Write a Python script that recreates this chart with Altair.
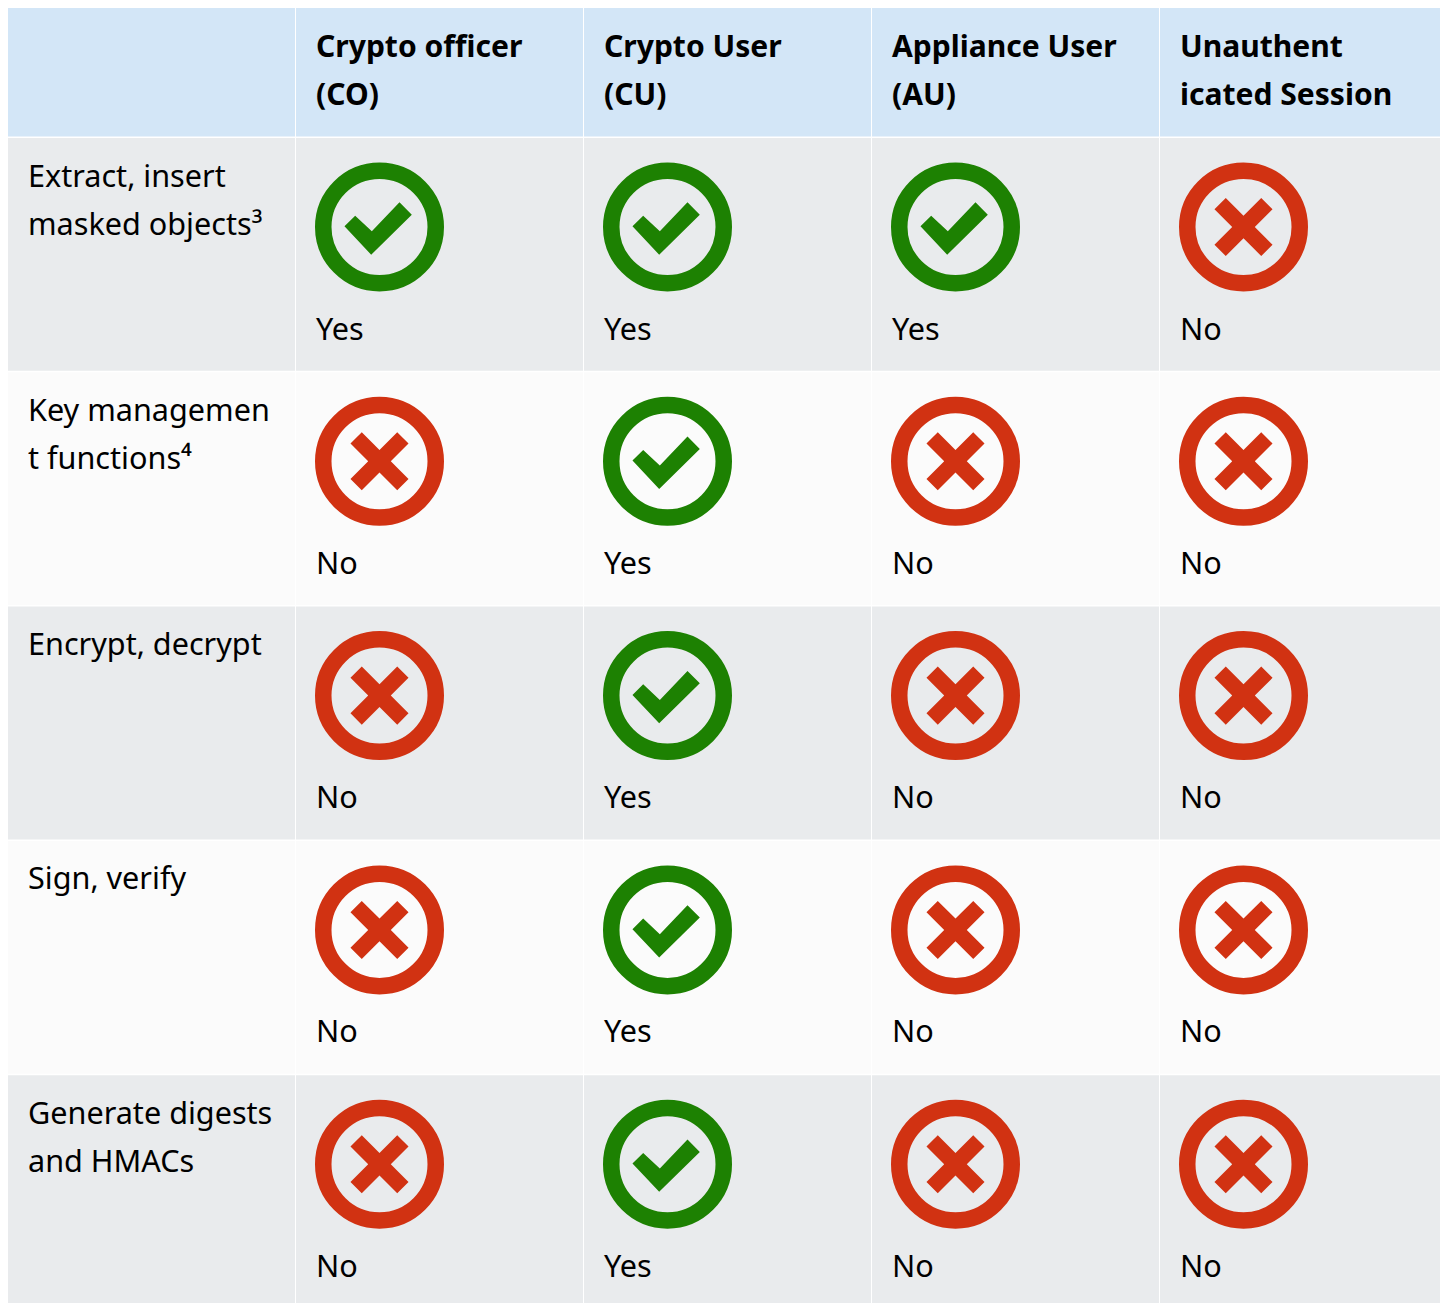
import altair as alt
import pandas as pd

columns = ["Role", "Crypto officer", "Crypto User", "Appliance User", "Unauthenticated"]
header_labels = ["", "Crypto officer\n(CO)", "Crypto User\n(CU)", "Appliance User\n(AU)", "Unauthent\nicated Session"]
row_labels = [
    "Extract, insert\nmasked objects³",
    "Key managemen\nt functions⁴",
    "Encrypt, decrypt",
    "Sign, verify",
    "Generate digests\nand HMACs",
]
stripe = ["odd", "even", "odd", "even", "odd"]
co = ["Yes", "No", "No", "No", "No"]
cu = ["Yes", "Yes", "Yes", "Yes", "Yes"]
au = ["Yes", "No", "No", "No", "No"]
un = ["No", "No", "No", "No", "No"]

FONT = "Noto Sans"
FS = 30.6
FSB = 30.05
CHECK = "M-.543,-.011L-.377,-.175L-.119,.067L.31,-.383L.501,-.191L-.129,.429Z"
CROSS = ("M-.275,-.45L0,-.175L.275,-.45L.45,-.275L.175,0L.45,.275L.275,.45L0,.175"
         "L-.275,.45L-.45,.275L-.175,0L-.45,-.275Z")

header = pd.DataFrame({"col": columns, "label": header_labels})
rows = []
for i, label in enumerate(row_labels):
    rows.append({"row": i, "col": columns[0], "stripe": stripe[i], "label": label})
body_cells = pd.DataFrame(rows)
status_rows = []
for c, vals in zip(columns[1:], [co, cu, au, un]):
    for i, v in enumerate(vals):
        status_rows.append({"row": i, "col": c, "status": v, "stripe": stripe[i]})
status = pd.DataFrame(status_rows)
cells = pd.concat([body_cells[["row", "col", "stripe"]], status[["row", "col", "stripe"]]])

# The page's content box is 1432 wide; the table's columns keep their true 288 step.
xscale = alt.Scale(type="band", domain=columns, paddingInner=1 / 288, paddingOuter=0, range=[0, 1439])
yscale = alt.Scale(type="band", domain=list(range(5)), paddingInner=1.5 / 234, paddingOuter=0)
X = alt.X("col:N", scale=xscale, axis=None, title=None)
X0 = alt.X("col:N", scale=xscale, axis=None, title=None, bandPosition=0)
Y = alt.Y("row:O", scale=yscale, axis=None, title=None)
Y0 = alt.Y("row:O", scale=yscale, axis=None, title=None, bandPosition=0)
status_color = alt.Color("status:N", legend=None,
                         scale=alt.Scale(domain=["Yes", "No"], range=["#1D8102", "#D13212"]))

head_rect = alt.Chart(header).mark_rect(color="#D3E6F7", clip=True).encode(
    x=X, y=alt.value(0), y2=alt.value(128.5))
head_text = alt.Chart(header).mark_text(
    font=FONT, fontSize=FSB, fontWeight="bold", color="#000000", align="left",
    baseline="alphabetic", lineBreak="\n", lineHeight=48, dx=20, dy=49,
).encode(x=X0, y=alt.value(0), text="label:N")
head = (head_rect + head_text).properties(width=1432, height=129)

bg = alt.Chart(cells).mark_rect(clip=True).encode(
    x=X, y=Y,
    color=alt.Color("stripe:N", legend=None,
                    scale=alt.Scale(domain=["odd", "even"], range=["#E9EBED", "#FBFBFB"])),
)
row_text = alt.Chart(body_cells).mark_text(
    font=FONT, fontSize=FS, color="#000000", align="left", baseline="alphabetic",
    lineBreak="\n", lineHeight=48, dx=20, dy=48.5,
).encode(x=X0, y=Y0, text="label:N")
ring = alt.Chart(status).mark_point(filled=False, size=112.5 ** 2, strokeWidth=16.5, opacity=1,
                                    xOffset=83.5, yOffset=89).encode(
    x=X0, y=Y0, color=status_color)
glyph = alt.Chart(status).mark_point(filled=True, size=129 ** 2, opacity=1, strokeWidth=0,
                                     xOffset=83.5, yOffset=89).encode(
    x=X0, y=Y0, color=status_color,
    shape=alt.Shape("status:N", legend=None,
                    scale=alt.Scale(domain=["Yes", "No"], range=[CHECK, CROSS])),
)
status_text = alt.Chart(status).mark_text(
    font=FONT, fontSize=FS, color="#000000", align="left", baseline="alphabetic",
    dx=20, dy=201.5,
).encode(x=X0, y=Y0, text="status:N")
body = alt.layer(bg, row_text, ring, glyph, status_text).resolve_scale(color="independent").properties(
    width=1432, height=1170)

chart = alt.vconcat(head, body, spacing=0, padding=0, background="white").configure_view(stroke=None)
chart.save("out.html", embed_options={"renderer": "svg", "actions": False})
